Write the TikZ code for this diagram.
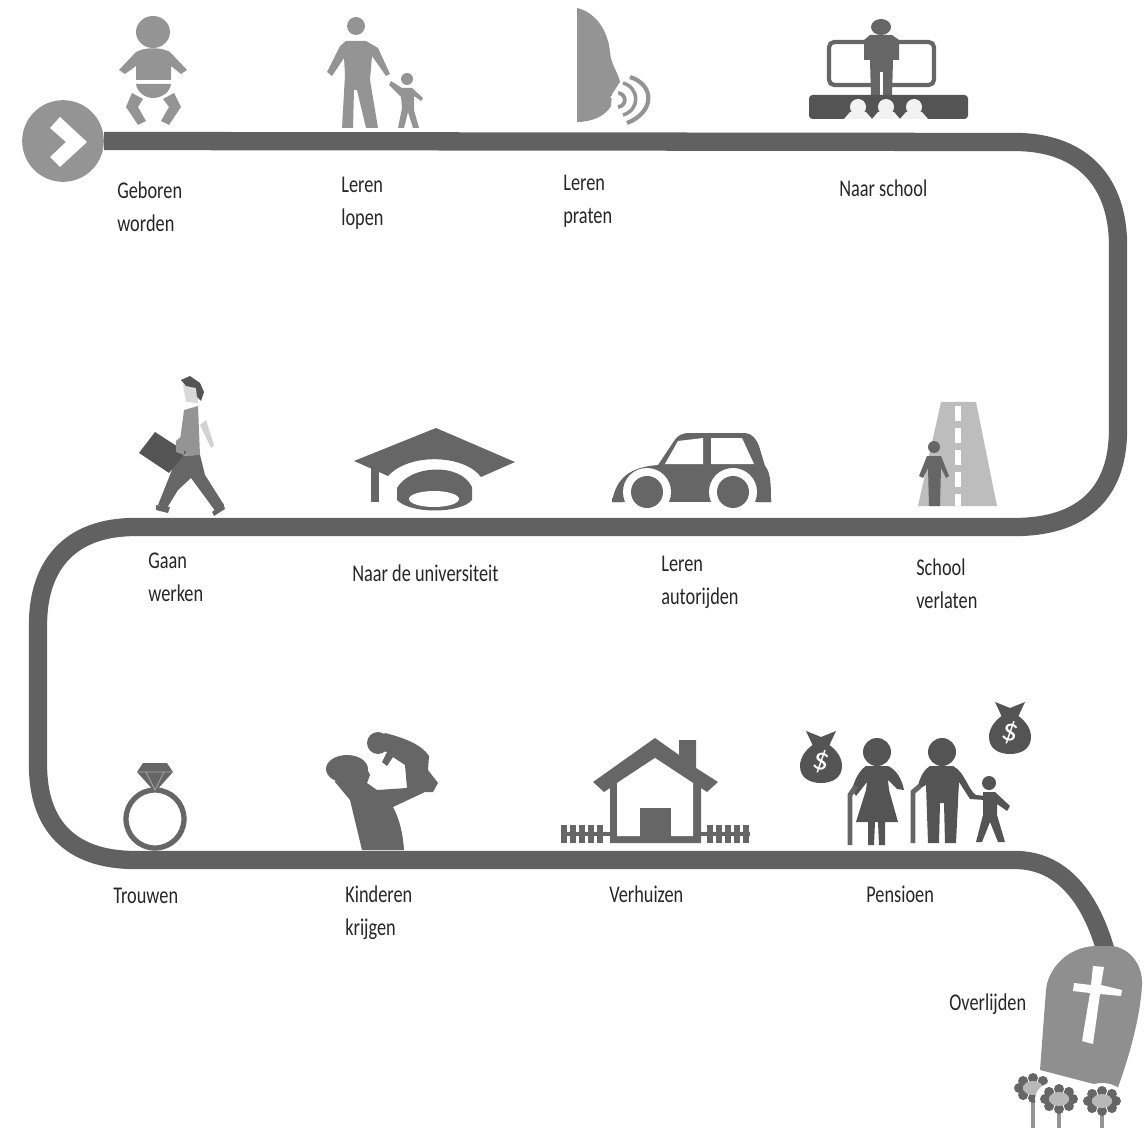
\documentclass[tikz,border=0pt]{standalone}
\usepackage{fontspec}
\setmainfont{Carlito}
\definecolor{roadgray}{gray}{0.38}
\definecolor{icondark}{gray}{0.33}
\definecolor{iconmid}{gray}{0.40}
\definecolor{iconlight}{gray}{0.58}
\definecolor{asphalt}{gray}{0.74}
\definecolor{stonegray}{gray}{0.56}
\begin{document}
\begin{tikzpicture}
[
  x=0.02cm,
  y=-0.02cm,
  road/.style={line width=10.4pt,roadgray},
  lbl/.style={anchor=north west,align=left,inner sep=0pt,text=black!85,yscale=1.22,xscale=0.93,transform shape,
    font=\fontsize{11.2}{15.4}\selectfont},
  dollar/.style={text=white,inner sep=0pt,rotate=-15,font=\fontsize{18}{18}\selectfont}
]
\useasboundingbox (0,0) rectangle (1146,1128);

% road
\node[circle,fill=iconlight,minimum size=46.5pt,inner sep=0pt] (start) at (63,141) {};
\coordinate (graveTop) at (1106,952);
\draw[road] (start.east) -- (1015,142) .. controls (1085,142) and (1118,185) .. (1118,245)
  -- (1118,430) .. controls (1118,495) and (1080,527) .. (1015,527)
  -- (135,527) .. controls (70,527) and (38,565) .. (38,625)
  -- (38,765) .. controls (38,825) and (70,860) .. (135,860)
  -- (1015,860) .. controls (1060,860) and (1090,895) .. (graveTop);
\fill[white] (50,128) -- (60,117) -- (87,142) -- (60,167) -- (50,157) -- (66,142) -- cycle;

% baby
\fill[iconlight] (153,32) ellipse (17 and 16);
\fill[iconlight] (119,70) -- (136,52) .. controls (145,47) and (161,47) .. (170,52) -- (187,70) -- (181,74) -- (171,66)
  -- (171,80) -- (136,80) -- (136,66) -- (125,74) -- cycle;
\fill[iconlight] (136,84) -- (171,84) .. controls (170,92) and (162,98) .. (153,98) .. controls (145,98) and (137,92) .. (136,84) -- cycle;
\fill[iconlight] (132,93) -- (126,107) -- (138,125) -- (146,121) -- (138,107) -- (143,99) -- cycle;
\fill[iconlight] (174,93) -- (181,107) -- (169,125) -- (161,121) -- (169,107) -- (163,99) -- cycle;

% adult and child walking
\fill[iconlight] (356,26) circle (9);
\fill[iconlight] (346,41) -- (366,41) -- (378,48) -- (390,74) -- (386,76) -- (372,56) -- (370,80) -- (378,128) -- (366,128)
  -- (357,90) -- (354,90) -- (353,128) -- (342,128) -- (345,75) -- (344,58) -- (332,76) -- (327,72) -- (340,46) -- cycle;
\fill[iconlight] (407,79) circle (6);
\fill[iconlight] (402,88) -- (412,88) -- (423,98) -- (421,101) -- (414,96) -- (414,110) -- (419,128) -- (413,128) -- (408,112)
  -- (404,128) -- (398,128) -- (402,108) -- (401,97) -- (389,85) -- (391,81) -- cycle;

% face with sound waves
\fill[iconlight] (577,8) .. controls (595,12) and (608,30) .. (610,52) .. controls (611,65) and (618,72) .. (620,82)
  -- (612,94) -- (611,106) .. controls (605,117) and (590,122) .. (577,122) -- cycle;
\draw[iconlight,line width=2.2pt] (618,93) .. controls (627,94) and (627,106) .. (618,107);
\draw[iconlight,line width=2pt] (623,83) .. controls (640,88) and (640,110) .. (623,115);
\draw[iconlight,line width=2.4pt] (630,77) .. controls (655,85) and (655,112) .. (627,123);
\fill[white] (610,97) -- (618,92) -- (619,102) -- cycle;

% teacher in front of the class
\draw[iconmid,line width=2.4pt,rounded corners=3pt] (829,42) rectangle (934,85);
\fill[iconmid] (881,27) ellipse (10 and 8);
\fill[iconmid] (870,35) -- (892,35) -- (899,40) -- (899,60) -- (893,60) -- (892,97) -- (871,97) -- (870,60) -- (864,60) -- (864,40) -- cycle;
\fill[white] (880,72) rectangle (883,97);
\fill[icondark,rounded corners=2pt] (809,95) rectangle (968,119);
\fill[white!95!black] (858,107) circle (8) (886,107) circle (8) (914,107) circle (8);
\fill[white!95!black] (844,119) -- (850,112) -- (866,112) -- (872,119) -- cycle
  (872,119) -- (878,112) -- (894,112) -- (900,119) -- cycle
  (900,119) -- (906,112) -- (922,112) -- (928,119) -- cycle;

% man with briefcase
\fill[gray!35] (200,425) -- (206,420) -- (214,445) -- (211,448) -- cycle;
\fill[gray!30] (183,385) -- (197,385) -- (198,403) -- (186,402) -- cycle;
\fill[icondark] (181,380) -- (190,376) -- (200,383) -- (204,392) -- (201,401) -- (197,397) -- (196,388) -- (186,386) -- cycle;
\fill[iconlight] (184,410) -- (198,406) -- (200,455) -- (178,456) -- cycle;
\fill[iconmid] (177,456) -- (200,455) -- (205,475) -- (224,505) -- (216,512) -- (191,478) -- (178,490) -- (167,508) -- (158,505) -- (170,475) -- cycle;
\fill[iconmid] (156,505) -- (170,507) -- (168,513) -- (156,510) -- cycle (223,503) -- (225,509) -- (214,516) -- (212,512) -- cycle;
\fill[icondark] (139,453) -- (155,432) -- (186,452) -- (169,473) -- cycle;
\fill[iconlight] (176,441) -- (184,434) -- (184,455) -- (176,452) -- cycle;

% graduation cap
\fill[iconmid] (354,461) -- (436,428) -- (515,462) -- (481,477) .. controls (465,455) and (410,452) .. (388,476) -- cycle;
\fill[iconmid] (371,468) rectangle (379,502);
\fill[iconmid] (397,488) .. controls (410,465) and (460,462) .. (472,487) -- (472,500) .. controls (460,514) and (410,514) .. (397,500) -- cycle;
\fill[white] (434,499) ellipse (25 and 8);

% car
\fill[iconmid] (612,502) .. controls (616,478) and (630,467) .. (658,465) -- (674,441) .. controls (678,435) and (682,433) .. (690,433)
  -- (745,433) .. controls (752,433) and (757,440) .. (759,446) -- (765,466) .. controls (770,472) and (771,480) .. (771,502)
  -- (612,502) -- cycle;
\fill[white] (647,492) circle (24) (733,492) circle (24);
\fill[white] (623,502) rectangle (757,515);
\fill[iconmid] (612,498) rectangle (622,502) (758,498) rectangle (771,502);
\fill[iconmid] (647,492) circle (16) (733,492) circle (16);
\fill[white] (665,464) -- (678,441) -- (703,438) -- (703,464) -- cycle (711,438) -- (742,438) -- (754,464) -- (711,464) -- cycle;

% road and person
\fill[asphalt] (941,402) -- (976,402) -- (997,506) -- (918,506) -- cycle;
\draw[white,line width=3pt,dash pattern=on 8.5pt off 4pt] (958,406) -- (958,506);
\fill[iconmid] (934,447) circle (6);
\fill[iconmid] (927,456) -- (941,456) -- (949,476) -- (946,478) -- (941,468) -- (940,506) -- (929,506) -- (928,468) -- (923,478) -- (919,476) -- cycle;

% ring
\draw[iconmid,line width=3pt] (155,819) circle (29);
\fill[iconmid] (137,772) -- (143,763) -- (167,763) -- (173,772) -- (155,792) -- cycle;
\draw[white!65!black,line width=0.5pt] (137,772) -- (173,772) (146,772) -- (155,790) -- (164,772);

% father with child
\fill[iconmid] (347,769) ellipse (21 and 14);
\fill[iconmid] (378,743) circle (11);
\fill[iconmid] (345,757) .. controls (358,760) and (368,768) .. (370,775) -- (367,783) -- (377,790)
  -- (407,788) -- (405,765) -- (393,757) -- (387,766) -- (382,762) -- (387,752) -- (373,748) -- (385,733)
  .. controls (405,738) and (422,745) .. (429,756) -- (428,770) -- (438,783) -- (433,792) -- (425,792) -- (393,807)
  .. controls (400,820) and (403,835) .. (404,850) -- (362,850) -- (350,800) -- (335,782) -- cycle;

% house
\fill[iconmid] (593,782) -- (655,738) -- (679,755) -- (679,740) -- (696,740) -- (696,768) -- (718,782) -- (707,792) -- (701,788) -- (701,843)
  -- (610,843) -- (610,788) -- (604,792) -- cycle;
\fill[white] (617,783) -- (655,758) -- (693,783) -- (693,836) -- (617,836) -- cycle;
\fill[iconmid] (640,808) rectangle (671,840);
\draw[iconmid,line width=2.2pt] (562,834) -- (610,834) (701,834) -- (750,834);
\foreach \px in {564,573,582,591,600,710,719,728,737,746}
  \draw[iconmid,line width=3pt] (\px,825) -- (\px,843);

% retired couple, child and money bags
\fill[icondark] (806,731) -- (821,737) -- (836,731) -- (829,746) -- (813,746) -- cycle;
\fill[icondark] (814,744) .. controls (805,750) and (800,758) .. (800,766) .. controls (800,778) and (810,783) .. (821,783)
  .. controls (832,783) and (842,778) .. (842,766) .. controls (842,758) and (837,750) .. (828,744) -- cycle;
\node[dollar] (bagLeft) at (821,762) {\$};
\begin{scope}[shift={(189,-29)}]
\fill[icondark] (806,731) -- (821,737) -- (836,731) -- (829,746) -- (813,746) -- cycle;
\fill[icondark] (814,744) .. controls (805,750) and (800,758) .. (800,766) .. controls (800,778) and (810,783) .. (821,783)
  .. controls (832,783) and (842,778) .. (842,766) .. controls (842,758) and (837,750) .. (828,744) -- cycle;
\node[dollar] (bagRight) at (821,762) {\$};
\end{scope}
\fill[icondark] (877,752) circle (14);
\fill[icondark] (866,766) -- (888,766) .. controls (897,770) and (902,780) .. (904,790) -- (897,789) -- (888,780) -- (889,790) -- (898,822)
  -- (885,822) -- (885,845) -- (879,845) -- (878,822) -- (875,822) -- (874,845) -- (868,845) -- (868,822) -- (856,822) -- (866,790)
  -- (867,782) -- (856,796) -- (852,790) .. controls (855,778) and (860,770) .. (866,766) -- cycle;
\draw[iconmid,line width=2.8pt] (850,845) -- (850,795) -- (856,786);
\fill[icondark] (942,752) circle (14);
\fill[icondark] (930,766) -- (953,766) .. controls (965,772) and (968,790) .. (976,795) -- (986,796) -- (985,800) -- (970,799) -- (959,782)
  -- (956,843) -- (945,843) -- (944,803) -- (940,803) -- (939,843) -- (928,843) -- (926,785) -- (917,790) .. controls (920,775) and (925,769) .. (930,766) -- cycle;
\draw[iconmid,line width=2.8pt] (913,843) -- (913,792) -- (920,786);
\fill[icondark] (989,783) circle (7);
\fill[icondark] (983,792) -- (995,792) -- (1010,806) -- (1007,811) -- (997,804) -- (997,815) -- (1005,842) -- (998,842) -- (990,822) -- (982,842) -- (976,842) -- (983,815) -- cycle;

% grave
\fill[stonegray] (1040,1070) -- (1046,990) .. controls (1048,968) and (1068,947) .. (1095,946) -- (1112,946) .. controls (1130,948) and (1143,965) .. (1142,985)
  .. controls (1140,1020) and (1128,1060) .. (1117,1090) -- cycle;
\fill[white] (1093,966) -- (1104,967) -- (1101,985) -- (1122,990) -- (1121,996) -- (1100,994) -- (1093,1044) -- (1082,1041) -- (1090,993) -- (1073,991) -- (1074,983) -- (1091,985) -- cycle;
\foreach \cx/\cy in {1033/1088,1059/1099,1102/1101}{
  \fill[white] (\cx,\cy) ellipse (24 and 18);
  \draw[iconlight,line width=2pt] (\cx,\cy) -- (\cx,1128);
  \foreach \a in {0,45,...,315}
    \fill[iconmid] (\cx,\cy) ++({14*cos(\a)},{10*sin(\a)}) circle (5);
  \fill[white!72!black] (\cx,\cy) ellipse (10 and 7);
}

% labels
\node[lbl] (geboren) at (117,181) {Geboren\\worden};
\node[lbl] (lopen) at (341,177) {Leren\\lopen};
\node[lbl] (praten) at (563,175) {Leren\\praten};
\node[lbl] (school) at (839,179) {Naar school};
\node[lbl] (werken) at (148,552) {Gaan\\werken};
\node[lbl] (universiteit) at (352,564) {Naar de universiteit};
\node[lbl] (autorijden) at (661,556) {Leren\\autorijden};
\node[lbl] (verlaten) at (916,558) {School\\verlaten};
\node[lbl] (trouwen) at (113,888) {Trouwen};
\node[lbl] (kinderen) at (345,885) {Kinderen\\krijgen};
\node[lbl] (verhuizen) at (609,885) {Verhuizen};
\node[lbl] (pensioen) at (866,886) {Pensioen};
\node[lbl] (overlijden) at (949,993) {Overlijden};

\end{tikzpicture}
\end{document}
